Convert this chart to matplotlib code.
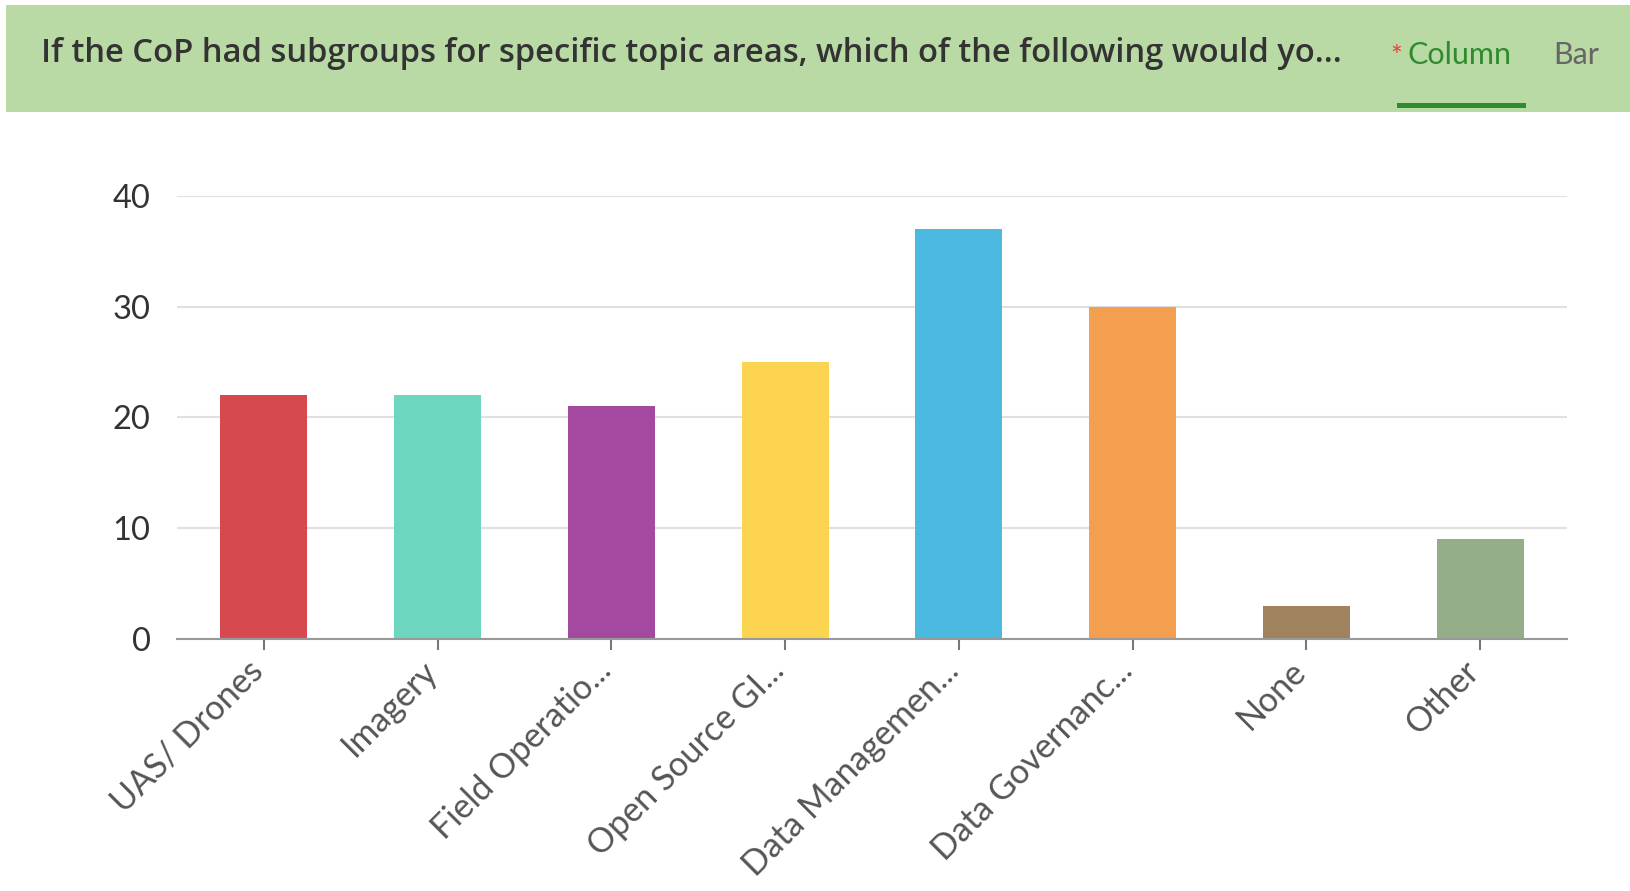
import matplotlib.pyplot as plt
from matplotlib.patches import Rectangle
from matplotlib.transforms import ScaledTranslation

plt.rcParams['font.family'] = ['Lato', 'DejaVu Sans']

categories = ["UAS/ Drones", "Imagery", "Field Operatio...", "Open Source GI...",
              "Data Managemen...", "Data Governanc...", "None", "Other"]
counts = [22, 22, 21, 25, 37, 30, 3, 9]
colors = ["#d64a4f", "#6dd6bf", "#a34aa0", "#fdd44f",
          "#4bb9e0", "#f49e50", "#a1825f", "#93ae88"]
yticks = [0, 10, 20, 30, 40]

fig = plt.figure(figsize=(16.31, 8.91), dpi=100)

# header band
fig.patches.append(Rectangle((6/1631, 1-112/891), 1, 107/891, transform=fig.transFigure,
                             facecolor="#b9d9a5", edgecolor="none", zorder=0))
fig.text(41/1631, 1-54/891, "If the CoP had subgroups for specific topic areas, which of the following would yo...",
         fontsize=23.6, fontweight="semibold", color="#333333", va="center", ha="left",
         family=["Open Sans", "DejaVu Sans"])
fig.text(1390/1631, 1-58/891, "*", fontsize=20, color="#e0483e", va="center", ha="left")
fig.text(1408/1631, 1-55/891, "Column", fontsize=22, color="#2e8b2e", va="center", ha="left")
fig.text(1553/1631, 1-55/891, "Bar", fontsize=22, color="#666666", va="center", ha="left")
fig.patches.append(Rectangle((1397/1631, 1-108/891), 129/1631, 5/891, transform=fig.transFigure,
                             facecolor="#2e8b2e", edgecolor="none"))

ax = fig.add_axes([177/1631, 1-639/891, (1567-177)/1631, (639-196)/891])
x = range(len(categories))
ax.bar(x, counts, width=0.5, color=colors, zorder=2)
ax.set_xlim(-0.5, len(categories) - 0.5)
ax.set_ylim(0, 40)
ax.set_yticks(yticks)
ax.yaxis.grid(True, color="#e0e0e0", linewidth=1.5, zorder=0)
ax.set_axisbelow(True)
for s in ["top", "right", "left"]:
    ax.spines[s].set_visible(False)
ax.spines["bottom"].set_color("#999999")
ax.spines["bottom"].set_linewidth(1.5)
ax.tick_params(axis="y", length=0, labelsize=23.5, labelcolor="#333333", pad=19)
ax.tick_params(axis="x", length=8, width=1.5, color="#777777", labelsize=24.5,
               labelcolor="#555555", pad=6)
ax.set_xticks(list(x))
ax.set_xticklabels(categories, rotation=45, ha="right", rotation_mode="anchor")
shift = ScaledTranslation(-0.17, 0.04, fig.dpi_scale_trans)
for lab in ax.get_xticklabels():
    lab.set_transform(lab.get_transform() + shift)

fig.savefig("out.png", dpi=100)
